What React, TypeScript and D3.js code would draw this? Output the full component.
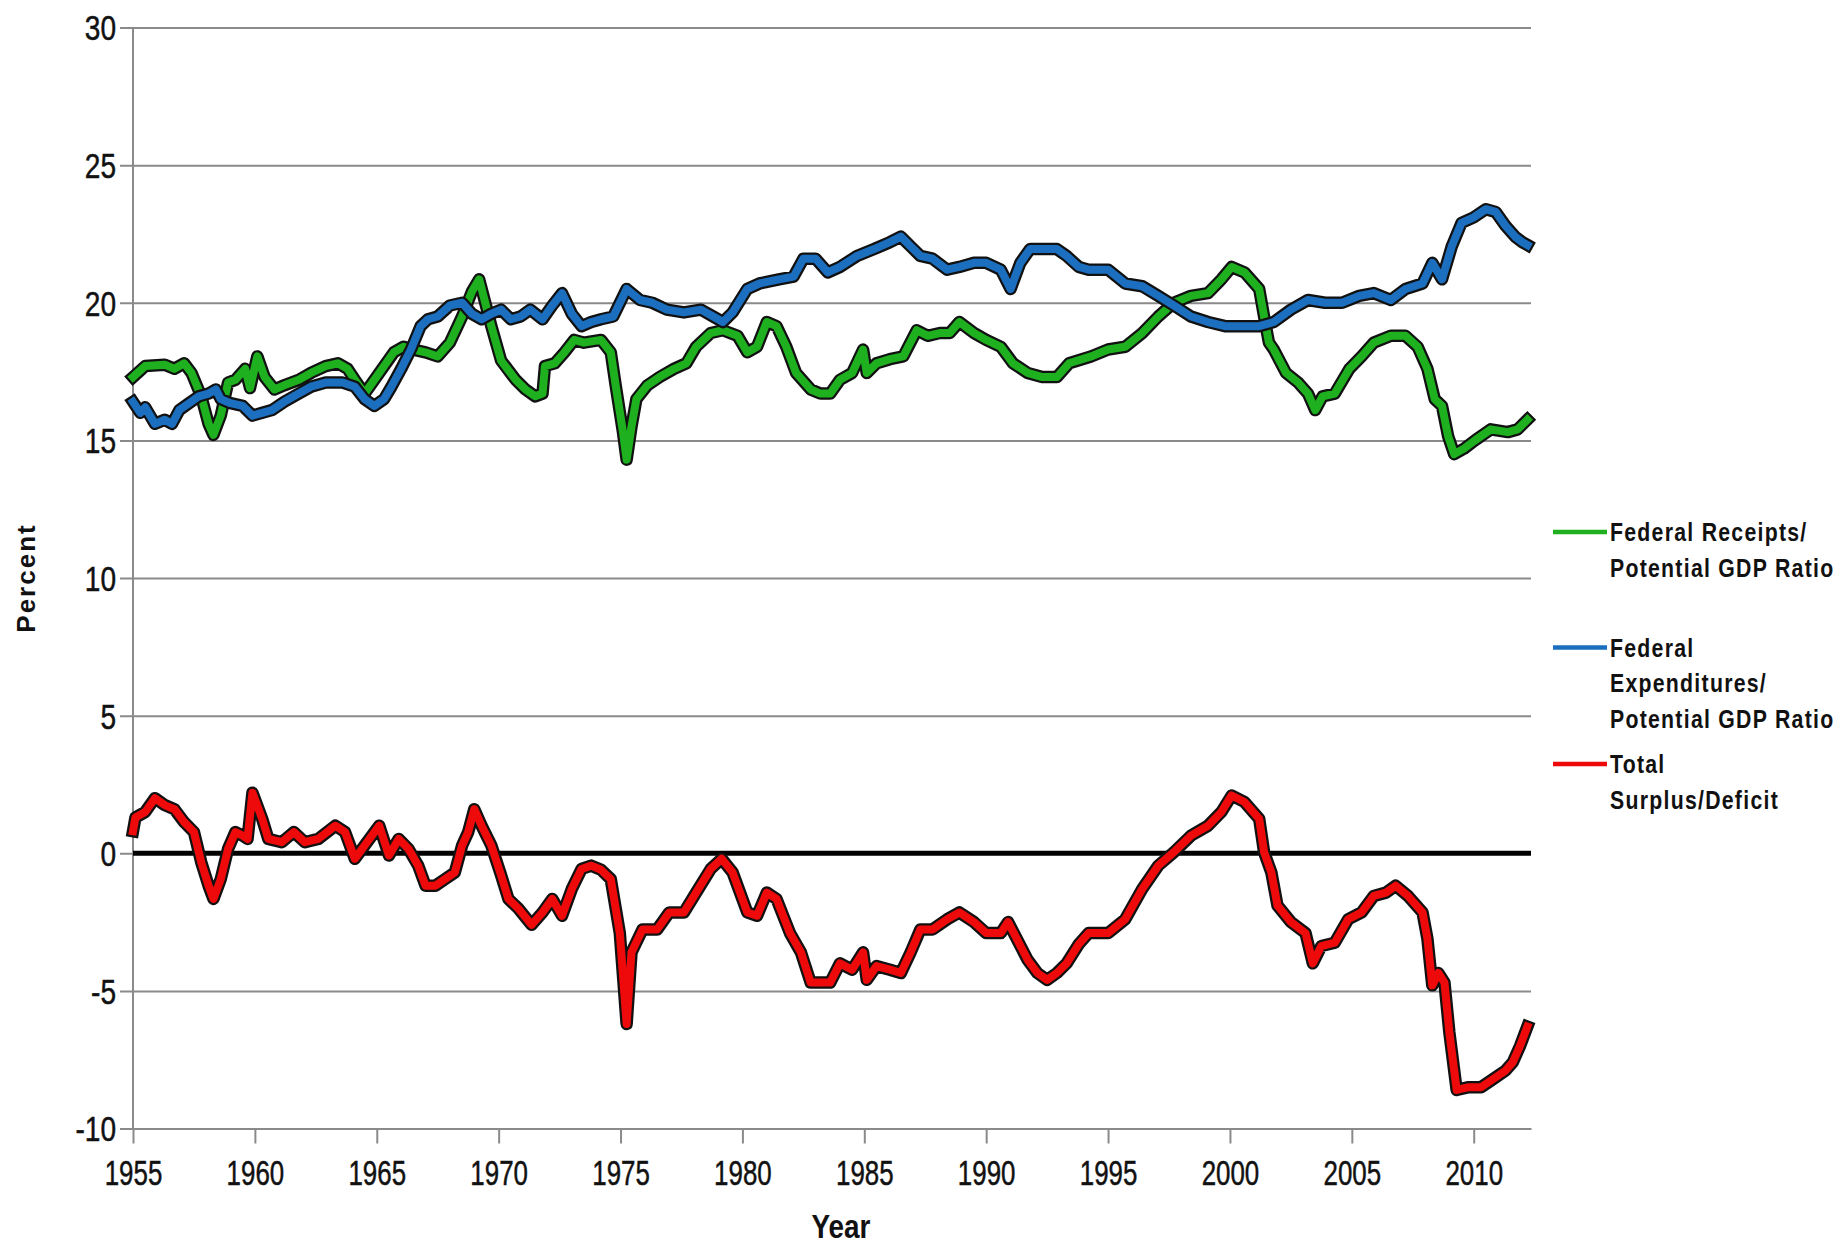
import * as React from "react";
import * as d3 from "d3";

type Pt = [number, number];

// Federal receipts / potential GDP (percent)
const receipts: Pt[] = [
  [1955.0, 17.3], [1955.5, 17.7], [1956.3, 17.75], [1956.7, 17.6], [1957.1, 17.8], [1957.4, 17.45],
  [1957.8, 16.6], [1958.1, 15.6], [1958.3, 15.2], [1958.6, 15.9], [1958.9, 17.1], [1959.2, 17.2],
  [1959.6, 17.6], [1959.8, 16.9], [1960.1, 18.05], [1960.4, 17.3], [1960.8, 16.85], [1961.2, 17.0],
  [1961.8, 17.2], [1962.3, 17.45], [1962.9, 17.7], [1963.4, 17.8], [1963.8, 17.6], [1964.1, 17.2],
  [1964.5, 16.7], [1964.9, 17.2], [1965.3, 17.7], [1965.7, 18.2], [1966.1, 18.4], [1966.5, 18.3],
  [1967.0, 18.2], [1967.5, 18.05], [1968.0, 18.55], [1968.5, 19.5], [1968.9, 20.4], [1969.2, 20.85],
  [1969.7, 19.15], [1970.1, 17.9], [1970.7, 17.2], [1971.1, 16.85], [1971.5, 16.6], [1971.8, 16.7],
  [1971.9, 17.7], [1972.3, 17.8], [1972.7, 18.2], [1973.1, 18.65], [1973.5, 18.55], [1974.2, 18.65],
  [1974.6, 18.2], [1974.8, 17.0], [1975.1, 15.3], [1975.25, 14.3], [1975.45, 15.5], [1975.65, 16.5],
  [1976.1, 17.0], [1976.6, 17.3], [1977.2, 17.6], [1977.7, 17.8], [1978.1, 18.4], [1978.7, 18.9],
  [1979.2, 19.0], [1979.8, 18.8], [1980.2, 18.2], [1980.6, 18.4], [1981.0, 19.3], [1981.4, 19.15],
  [1981.8, 18.4], [1982.2, 17.45], [1982.8, 16.85], [1983.2, 16.7], [1983.6, 16.7], [1984.0, 17.2],
  [1984.5, 17.45], [1984.95, 18.3], [1985.1, 17.45], [1985.5, 17.8], [1986.05, 17.95], [1986.6, 18.05],
  [1987.15, 19.0], [1987.6, 18.8], [1988.1, 18.9], [1988.5, 18.9], [1988.9, 19.3], [1989.5, 18.9],
  [1990.0, 18.65], [1990.6, 18.4], [1991.1, 17.8], [1991.7, 17.45], [1992.3, 17.3], [1992.9, 17.3],
  [1993.4, 17.8], [1994.3, 18.05], [1995.0, 18.3], [1995.7, 18.4], [1996.4, 18.9], [1997.06, 19.5],
  [1997.7, 20.0], [1998.4, 20.25], [1999.1, 20.35], [1999.65, 20.85], [2000.07, 21.3], [2000.6, 21.1],
  [2001.2, 20.5], [2001.4, 19.5], [2001.6, 18.55], [2001.8, 18.3], [2002.3, 17.45], [2002.8, 17.1],
  [2003.2, 16.7], [2003.5, 16.1], [2003.8, 16.6], [2004.3, 16.7], [2004.9, 17.6], [2005.4, 18.05],
  [2005.9, 18.55], [2006.6, 18.8], [2007.2, 18.8], [2007.7, 18.4], [2008.1, 17.6], [2008.4, 16.5],
  [2008.7, 16.25], [2008.95, 15.15], [2009.2, 14.5], [2009.6, 14.7], [2010.05, 15.0], [2010.7, 15.4],
  [2011.4, 15.3], [2011.8, 15.4], [2012.2, 15.75],
];

// Federal expenditures / potential GDP (percent)
const expenditures: Pt[] = [
  [1955.0, 16.4], [1955.3, 16.0], [1955.5, 16.2], [1955.9, 15.6], [1956.3, 15.75], [1956.6, 15.6],
  [1956.9, 16.1], [1957.3, 16.35], [1957.7, 16.6], [1958.1, 16.7], [1958.4, 16.85], [1958.6, 16.5],
  [1959.0, 16.35], [1959.5, 16.25], [1959.9, 15.9], [1960.3, 16.0], [1960.7, 16.1], [1961.2, 16.4],
  [1961.8, 16.7], [1962.3, 16.95], [1962.9, 17.1], [1963.6, 17.1], [1964.1, 16.95], [1964.5, 16.5],
  [1964.9, 16.25], [1965.3, 16.5], [1965.6, 16.95], [1966.0, 17.6], [1966.4, 18.3], [1966.8, 19.15],
  [1967.1, 19.4], [1967.5, 19.5], [1968.0, 19.9], [1968.5, 20.0], [1968.9, 19.6], [1969.3, 19.4],
  [1969.7, 19.6], [1970.1, 19.75], [1970.5, 19.4], [1970.9, 19.5], [1971.3, 19.75], [1971.8, 19.4],
  [1972.2, 19.9], [1972.6, 20.35], [1973.0, 19.6], [1973.4, 19.15], [1973.8, 19.3], [1974.2, 19.4],
  [1974.7, 19.5], [1975.25, 20.5], [1975.8, 20.1], [1976.3, 20.0], [1976.9, 19.75], [1977.6, 19.65],
  [1978.3, 19.75], [1978.8, 19.5], [1979.2, 19.3], [1979.6, 19.65], [1980.2, 20.5], [1980.7, 20.7],
  [1981.5, 20.85], [1982.1, 20.95], [1982.5, 21.6], [1983.0, 21.6], [1983.5, 21.1], [1984.0, 21.3],
  [1984.7, 21.7], [1985.4, 21.95], [1986.05, 22.2], [1986.5, 22.4], [1986.9, 22.05], [1987.3, 21.7],
  [1987.8, 21.6], [1988.4, 21.2], [1988.9, 21.3], [1989.5, 21.45], [1990.0, 21.45], [1990.6, 21.2],
  [1991.0, 20.5], [1991.4, 21.45], [1991.8, 21.95], [1992.3, 21.95], [1992.9, 21.95], [1993.3, 21.7],
  [1993.8, 21.3], [1994.2, 21.2], [1995.0, 21.2], [1995.7, 20.7], [1996.4, 20.6], [1997.06, 20.25],
  [1997.7, 19.9], [1998.4, 19.5], [1999.1, 19.3], [1999.8, 19.15], [2000.5, 19.15], [2001.2, 19.15],
  [2001.8, 19.3], [2002.5, 19.75], [2003.2, 20.1], [2003.9, 20.0], [2004.6, 20.0], [2005.3, 20.25],
  [2005.9, 20.35], [2006.6, 20.1], [2007.2, 20.5], [2007.9, 20.7], [2008.3, 21.45], [2008.7, 20.85],
  [2009.1, 22.05], [2009.5, 22.9], [2010.0, 23.1], [2010.5, 23.4], [2010.9, 23.3], [2011.3, 22.8],
  [2011.7, 22.4], [2012.0, 22.2], [2012.2, 22.1],
];

// Total surplus / deficit (percent)
const surplus: Pt[] = [
  [1955.0, 0.8], [1955.1, 1.3], [1955.5, 1.5], [1955.9, 2.0], [1956.3, 1.75], [1956.7, 1.6],
  [1957.1, 1.13], [1957.5, 0.77], [1957.8, -0.33], [1958.1, -1.18], [1958.3, -1.66], [1958.6, -0.94],
  [1958.9, 0.16], [1959.2, 0.77], [1959.5, 0.64], [1959.7, 0.52], [1959.9, 2.2], [1960.3, 1.25],
  [1960.55, 0.52], [1961.1, 0.4], [1961.6, 0.77], [1962.05, 0.4], [1962.6, 0.52], [1963.3, 1.0],
  [1963.7, 0.77], [1964.1, -0.2], [1964.5, 0.28], [1965.1, 1.0], [1965.5, -0.08], [1965.9, 0.52],
  [1966.3, 0.16], [1966.7, -0.45], [1967.0, -1.18], [1967.4, -1.18], [1967.8, -0.94], [1968.2, -0.7],
  [1968.5, 0.28], [1968.75, 0.77], [1969.0, 1.6], [1969.3, 1.0], [1969.7, 0.28], [1970.1, -0.8],
  [1970.4, -1.66], [1970.8, -2.0], [1971.35, -2.6], [1971.8, -2.15], [1972.2, -1.66], [1972.6, -2.27],
  [1973.0, -1.3], [1973.4, -0.57], [1973.8, -0.45], [1974.2, -0.6], [1974.6, -0.94], [1974.97, -2.9],
  [1975.25, -6.2], [1975.45, -3.6], [1975.9, -2.77], [1976.5, -2.77], [1977.0, -2.15], [1977.6, -2.15],
  [1978.1, -1.43], [1978.7, -0.57], [1979.15, -0.2], [1979.6, -0.7], [1980.2, -2.15], [1980.6, -2.27],
  [1981.0, -1.43], [1981.4, -1.66], [1981.95, -2.9], [1982.4, -3.6], [1982.8, -4.7], [1983.2, -4.7],
  [1983.6, -4.7], [1984.0, -4.0], [1984.5, -4.23], [1984.95, -3.6], [1985.1, -4.6], [1985.5, -4.1],
  [1986.05, -4.23], [1986.5, -4.35], [1986.9, -3.6], [1987.3, -2.77], [1987.8, -2.77], [1988.4, -2.4],
  [1988.9, -2.15], [1989.5, -2.5], [1990.0, -2.9], [1990.6, -2.9], [1990.9, -2.5], [1991.25, -3.1],
  [1991.7, -3.87], [1992.1, -4.35], [1992.5, -4.6], [1992.9, -4.35], [1993.3, -4.0], [1993.8, -3.3],
  [1994.2, -2.9], [1995.0, -2.9], [1995.7, -2.4], [1996.4, -1.3], [1997.06, -0.45], [1997.7, 0.04],
  [1998.4, 0.64], [1999.1, 1.0], [1999.65, 1.5], [2000.07, 2.1], [2000.6, 1.86], [2001.2, 1.25],
  [2001.4, 0.04], [2001.7, -0.7], [2001.95, -1.9], [2002.5, -2.5], [2003.1, -2.9], [2003.4, -4.0],
  [2003.75, -3.37], [2004.3, -3.25], [2004.85, -2.4], [2005.4, -2.15], [2005.9, -1.55], [2006.4, -1.43],
  [2006.8, -1.18], [2007.3, -1.55], [2007.9, -2.15], [2008.1, -3.1], [2008.3, -4.8], [2008.55, -4.35],
  [2008.8, -4.7], [2009.0, -6.5], [2009.3, -8.6], [2009.8, -8.5], [2010.3, -8.5], [2010.8, -8.2],
  [2011.3, -7.9], [2011.6, -7.6], [2011.9, -7.0], [2012.2, -6.3],
];

const yearTicks = [1955, 1960, 1965, 1970, 1975, 1980, 1985, 1990, 1995, 2000, 2005, 2010];
const pctTicks = [-10, -5, 0, 5, 10, 15, 20, 25, 30];

const seriesNames = [
  ["Federal Receipts/", "Potential GDP Ratio"],
  ["Federal", "Expenditures/", "Potential GDP Ratio"],
  ["Total", "Surplus/Deficit"],
];
const seriesColors = ["#1fb01f", "#1c6fbf", "#ee0a0a"];

const W = 1847;
const H = 1248;
const font = "'Liberation Sans', Arial, sans-serif";

function drawChart(svgRef: React.RefObject<SVGSVGElement>) {
  const svg = d3.select(svgRef.current);
  svg.selectAll("*").remove();

  const left = 133;
  const right = 1531;
  const top = 27.5;
  const bottom = 1128.5;

  const x = d3.scaleLinear().domain([1955, 2012.35]).range([left, right]);
  const y = d3.scaleLinear().domain([-10, 30]).range([bottom, top]);

  svg.append("rect").attr("width", W).attr("height", H).attr("fill", "#fff");

  // gridlines + y tick marks
  const yAxis = d3
    .axisLeft(y)
    .tickValues(pctTicks)
    .tickSize(-(right - left))
    .tickSizeOuter(0)
    .tickFormat(() => "");
  const gy = svg.append("g").attr("transform", `translate(${left},0)`).call(yAxis);
  gy.select(".domain").remove();
  gy.selectAll(".tick line")
    .attr("x1", -13)
    .attr("stroke", "#8a8a8a")
    .attr("stroke-width", 2);

  // y labels (squeezed a bit, like the narrow original lettering)
  svg
    .append("g")
    .selectAll("text")
    .data(pctTicks)
    .enter()
    .append("text")
    .attr("transform", (d) => `translate(116,${y(d)}) scale(0.78,1)`)
    .attr("dy", "0.36em")
    .attr("text-anchor", "end")
    .attr("font-family", font)
    .attr("font-size", 36)
    .attr("fill", "#111")
    .attr("stroke", "#111")
    .attr("stroke-width", 0.5)
    .text((d) => `${d}`);

  // left axis line
  svg
    .append("line")
    .attr("x1", left)
    .attr("x2", left)
    .attr("y1", top)
    .attr("y2", bottom)
    .attr("stroke", "#8a8a8a")
    .attr("stroke-width", 2);

  // x axis ticks
  const xAxis = d3
    .axisBottom(x)
    .tickValues(yearTicks)
    .tickSize(15)
    .tickSizeOuter(0)
    .tickPadding(16)
    .tickFormat(d3.format("d"));
  const gx = svg.append("g").attr("transform", `translate(0,${bottom})`).call(xAxis);
  gx.select(".domain").attr("stroke", "#8a8a8a").attr("stroke-width", 2);
  gx.selectAll(".tick line").attr("stroke", "#8a8a8a").attr("stroke-width", 2);
  gx.selectAll(".tick text")
    .attr("transform", "scale(0.72,1)")
    .attr("font-family", font)
    .attr("font-size", 36)
    .attr("fill", "#111")
    .attr("stroke", "#111")
    .attr("stroke-width", 0.5);

  // zero line
  svg
    .append("line")
    .attr("x1", left)
    .attr("x2", right)
    .attr("y1", y(0))
    .attr("y2", y(0))
    .attr("stroke", "#000")
    .attr("stroke-width", 5);

  // series
  const line = d3
    .line<Pt>()
    .x((d) => x(d[0]))
    .y((d) => y(d[1]));

  [receipts, expenditures, surplus].forEach((data, i) => {
    svg
      .append("path")
      .attr("d", line(data))
      .attr("fill", "none")
      .attr("stroke", "#111")
      .attr("stroke-width", 12.5)
      .attr("stroke-linejoin", "round")
      .attr("stroke-linecap", "square");
    svg
      .append("path")
      .attr("d", line(data))
      .attr("fill", "none")
      .attr("stroke", seriesColors[i])
      .attr("stroke-width", 8)
      .attr("stroke-linejoin", "round")
      .attr("stroke-linecap", "square");
  });

  // axis titles
  svg
    .append("text")
    .attr("transform", `translate(841,1238) scale(0.82,1)`)
    .attr("text-anchor", "middle")
    .attr("font-family", font)
    .attr("font-weight", "bold")
    .attr("font-size", 34)
    .attr("fill", "#111")
    .text("Year");

  svg
    .append("text")
    .attr("transform", `translate(35,578) rotate(-90)`)
    .attr("text-anchor", "middle")
    .attr("font-family", font)
    .attr("font-weight", "bold")
    .attr("font-size", 26)
    .attr("letter-spacing", 2)
    .attr("fill", "#111")
    .text("Percent");

  // legend
  const legendTops = [532, 647.5, 764];
  const lineGap = 35.5;
  const legend = svg.append("g");
  seriesNames.forEach((lines, i) => {
    const ly = legendTops[i];
    legend
      .append("line")
      .attr("x1", 1553)
      .attr("x2", 1607)
      .attr("y1", ly)
      .attr("y2", ly)
      .attr("stroke", seriesColors[i])
      .attr("stroke-width", 4.5);
    lines.forEach((t, j) => {
      legend
        .append("text")
        .attr("transform", `translate(1610,${ly + j * lineGap}) scale(0.85,1)`)
        .attr("dy", "0.36em")
        .attr("font-family", font)
        .attr("font-weight", "bold")
        .attr("font-size", 25)
        .attr("letter-spacing", 1.5)
        .attr("fill", "#111")
        .text(t);
    });
  });
}

export default function App() {
  const svg = React.useRef<SVGSVGElement>(null);
  React.useEffect(() => {
    drawChart(svg);
  }, [svg]);

  return (
    <svg
      ref={svg}
      width={W}
      height={H}
      style={{ position: "absolute", left: 0, top: 0, display: "block" }}
    />
  );
}
